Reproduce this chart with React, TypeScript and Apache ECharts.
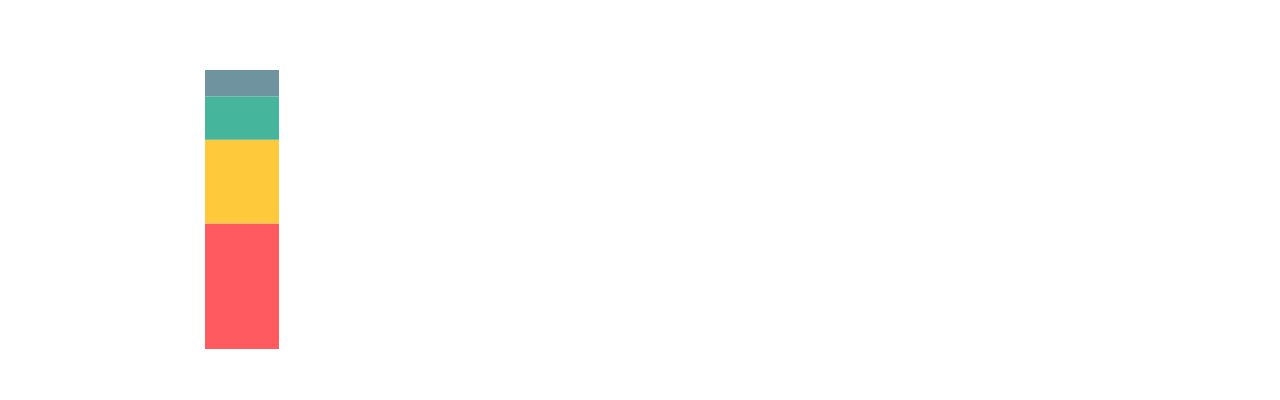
import { useEffect, useRef } from "react";
import * as echarts from "echarts";

const categories = [""];
const seriesNames = ["A", "B", "C", "D"];
const seriesValues = [[45], [30], [15.5], [9.5]];
const seriesColors = ["#ff5a5f", "#ffc93c", "#45b69c", "#6f939f"];

export default function App() {
  const ref = useRef<HTMLDivElement>(null);

  useEffect(() => {
    if (!ref.current) return;
    const chart = echarts.init(ref.current, undefined, { renderer: "svg" });
    chart.setOption({
      animation: false,
      grid: { left: 197, width: 74, top: 62, height: 279 },
      xAxis: {
        type: "category",
        data: categories,
        show: false,
      },
      yAxis: { type: "value", min: 0, max: 100, show: false },
      series: seriesNames.map((name, i) => ({
        name,
        type: "bar",
        stack: "total",
        barWidth: "100%",
        data: seriesValues[i],
        itemStyle: { color: seriesColors[i] },
      })),
    });
    return () => chart.dispose();
  }, []);

  return <div ref={ref} style={{ width: 1264, height: 384 }} />;
}
